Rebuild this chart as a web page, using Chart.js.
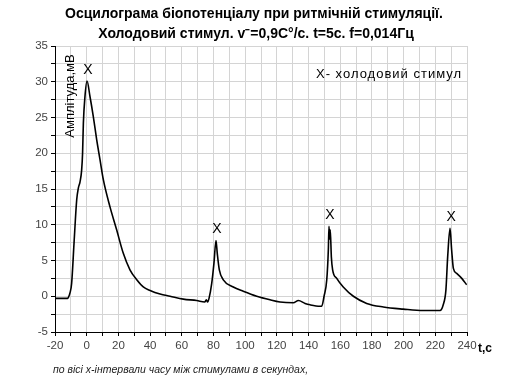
<!DOCTYPE html>
<html>
<head>
<meta charset="utf-8">
<script src="https://cdn.jsdelivr.net/npm/chart.js@4/dist/chart.umd.min.js"></script>
<style>
html,body{margin:0;padding:0;background:#fff;}
#wrap{width:506px;height:377px;position:relative;}
</style>
</head>
<body>
<div id="wrap"><canvas id="c" width="506" height="377"></canvas></div>
<script>
// time, s
const times = [-20, -15, -12, -11.6, -10.5, -9.5, -8, -6.3, -5.3, -4.2, -3.2, -2.6, -2.1, -1.1, 0.2, 2.1, 4.2, 6.3, 8.4, 10.5, 14.7, 18.9, 23.1, 27.3, 31.6, 35.7, 40, 46.3, 52.6, 61, 69.4, 74.5, 75.5, 76.3, 77.2, 78.9, 80.3, 81.6, 82.4, 83.7, 86.2, 92.5, 98.8, 107.3, 115.7, 122, 130.4, 133.6, 137.8, 141, 147.2, 148.3, 149.8, 151.5, 152.5, 152.9, 153.3, 153.7, 154.4, 155.2, 157.8, 161.9, 168.3, 176.7, 187.2, 199.8, 212.4, 223, 225, 226.7, 227.8, 229.3, 230.3, 231.4, 233.5, 236.7, 239.8];
// amplitude, mV
const amplitude = [-0.3, -0.3, -0.3, -0.2, 0.5, 1.8, 7.4, 13.5, 15.1, 16.0, 17.6, 20.0, 24.2, 27.9, 30.1, 27.9, 25.1, 21.9, 19.1, 16.3, 12.5, 9.3, 6.0, 3.7, 2.3, 1.3, 0.8, 0.3, 0.0, -0.4, -0.6, -0.8, -0.5, -0.8, -0.3, 1.8, 4.6, 7.8, 6.0, 3.7, 2.3, 1.3, 0.7, 0.0, -0.5, -0.8, -0.9, -0.6, -1.0, -1.2, -1.4, -1.4, 0.0, 2.3, 6.5, 9.8, 8.0, 9.3, 5.5, 3.7, 2.5, 1.3, 0.0, -1.0, -1.5, -1.8, -2.0, -2.0, -1.2, 0.9, 5.5, 9.5, 6.5, 3.9, 3.2, 2.5, 1.6];
// stimulus markers (time of peak, peak amplitude)
const stimulusT = [0.2, 81.6, 152.9, 229.3];
const stimulusV = [30.1, 7.8, 9.8, 9.5];

const titleLines = ["Осцилограма біопотенціалу при ритмічній стимуляції.", "Холодовий стимул. v⁻=0,9C°/c. t=5c. f=0,014Гц"];
const yTitle = "Амплітуда,мВ";
const xTitle = "t,c";
const legendText = "X- холодовий стимул";
const footnote = "по вісі х-інтервали часу між стимулами в секундах,";

const FONT = "'Liberation Sans', Arial, sans-serif";

const textPlugin = {
  id: 'texts',
  afterDraw(chart) {
    const ctx = chart.ctx;
    const xs = chart.scales.x, ys = chart.scales.y;
    ctx.save();
    ctx.fillStyle = '#000';
    ctx.textAlign = 'center';
    ctx.textBaseline = 'middle';
    ctx.font = "bold 14px " + FONT;
    ctx.fillText(titleLines[0], 254, 14);
    ctx.fillText(titleLines[1], 256, 34);
    // stimulus markers
    ctx.font = "14px " + FONT;
    for (let i = 0; i < stimulusT.length; i++) {
      ctx.fillText("X", xs.getPixelForValue(stimulusT[i]) + 1, ys.getPixelForValue(stimulusV[i]) - 11);
    }
    // legend text
    ctx.textAlign = 'left';
    ctx.font = "13px " + FONT;
    ctx.letterSpacing = "1px";
    ctx.fillText(legendText, 316, 74);
    ctx.letterSpacing = "0px";
    // x title
    ctx.font = "bold 12px " + FONT;
    ctx.fillText(xTitle, 478, 349);
    // footnote
    ctx.font = "italic 10.5px " + FONT;
    ctx.fillStyle = '#222';
    ctx.fillText(footnote, 53, 370);
    // y title
    ctx.fillStyle = '#000';
    ctx.font = "13px " + FONT;
    ctx.translate(70, 96);
    ctx.rotate(-Math.PI / 2);
    ctx.textAlign = 'center';
    ctx.fillText(yTitle, 0, 0);
    ctx.restore();
  }
};

new Chart(document.getElementById('c'), {
  type: 'line',
  data: {
    datasets: [{
      data: times.map((t, i) => ({x: t, y: amplitude[i]})),
      borderColor: '#000',
      borderWidth: 1.6,
      pointRadius: 0,
      cubicInterpolationMode: 'monotone',
      fill: false
    }]
  },
  options: {
    responsive: false,
    animation: false,
    layout: {padding: {left: 0, right: 39, top: 46, bottom: 0}},
    plugins: {legend: {display: false}, tooltip: {enabled: false}, title: {display: false}},
    scales: {
      x: {
        type: 'linear', min: -20, max: 240,
        afterFit(s) { s.height = 45; },
        border: {color: '#000', width: 1},
        grid: {color: '#d4d4d4', lineWidth: 1, tickLength: 4, tickColor: '#000', drawOnChartArea: true},
        ticks: {
          stepSize: 10, autoSkip: false, maxRotation: 0, padding: 3,
          color: '#444', font: {family: FONT, size: 11.5},
          callback: v => (v % 20 === 0 ? String(v) : '')
        }
      },
      y: {
        min: -5, max: 35,
        afterFit(s) { s.width = 55; },
        border: {color: '#000', width: 1},
        grid: {color: '#d4d4d4', lineWidth: 1, tickLength: 4, tickColor: '#000'},
        ticks: {
          stepSize: 2.5, autoSkip: false, padding: 3,
          color: '#444', font: {family: FONT, size: 11.5},
          callback: v => (v % 5 === 0 ? String(v) : '')
        }
      }
    }
  },
  plugins: [textPlugin]
});
</script>
</body>
</html>
